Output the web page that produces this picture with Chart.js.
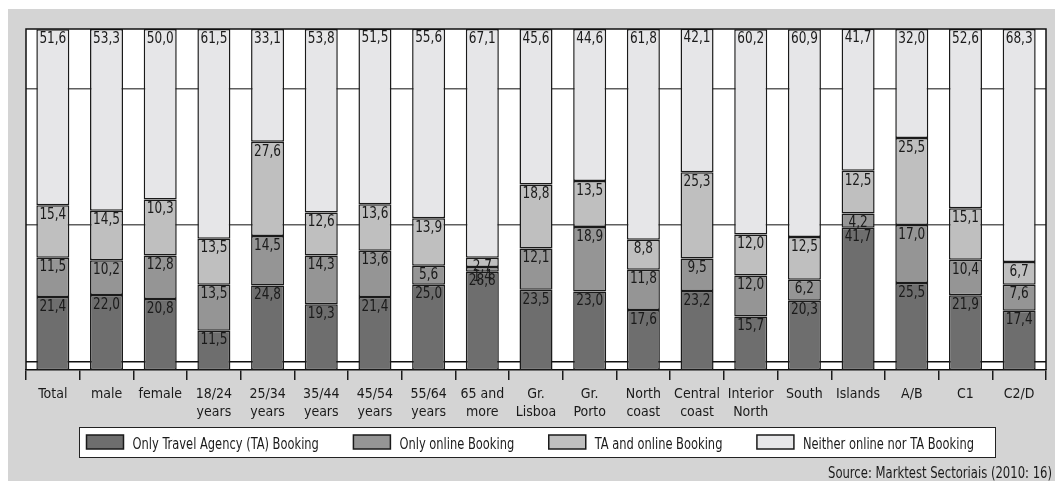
<!DOCTYPE html>
<html>
<head>
<meta charset="utf-8">
<script src="https://cdn.jsdelivr.net/npm/chart.js@4.4.1/dist/chart.umd.min.js"></script>
<style>
  html, body { margin: 0; padding: 0; background: #ffffff; }
  #wrap { width: 1059px; height: 481px; position: relative; }
  canvas { display: block; }
</style>
</head>
<body>
<div id="wrap"><canvas id="c" width="1059" height="481"></canvas></div>
<script>
// ---- data ----
const categories = [
  ['Total'], ['male'], ['female'], ['18/24', 'years'], ['25/34', 'years'],
  ['35/44', 'years'], ['45/54', 'years'], ['55/64', 'years'], ['65 and', 'more'],
  ['Gr.', 'Lisboa'], ['Gr.', 'Porto'], ['North', 'coast'], ['Central', 'coast'],
  ['Interior', 'North'], ['South'], ['Islands'], ['A/B'], ['C1'], ['C2/D']
];
const seriesNames = [
  'Only Travel Agency (TA) Booking',
  'Only online Booking',
  'TA and online Booking',
  'Neither online nor TA Booking'
];
const onlyTA      = [21.4, 22.0, 20.8, 11.5, 24.8, 19.3, 21.4, 25.0, 28.8, 23.5, 23.0, 17.6, 23.2, 15.7, 20.3, 41.7, 25.5, 21.9, 17.4];
const onlyOnline  = [11.5, 10.2, 12.8, 13.5, 14.5, 14.3, 13.6,  5.6,  1.4, 12.1, 18.9, 11.8,  9.5, 12.0,  6.2,  4.2, 17.0, 10.4,  7.6];
// drawn heights (female bar is drawn ~16.4 tall although printed as 10,3)
const taAndOnline = [15.4, 14.5, 16.4, 13.5, 27.6, 12.6, 13.6, 13.9,  2.7, 18.8, 13.5,  8.8, 25.3, 12.0, 12.5, 12.5, 25.5, 15.1,  6.7];
const taAndOnlinePrinted = [15.4, 14.5, 10.3, 13.5, 27.6, 12.6, 13.6, 13.9, 2.7, 18.8, 13.5, 8.8, 25.3, 12.0, 12.5, 12.5, 25.5, 15.1, 6.7];
const neither     = [51.6, 53.3, 50.0, 61.5, 33.1, 53.8, 51.5, 55.6, 67.1, 45.6, 44.6, 61.8, 42.1, 60.2, 60.9, 41.7, 32.0, 52.6, 68.3];
const gridValues = [2.5, 42.5, 82.5];
const sourceText = 'Source: Marktest Sectoriais (2010: 16)';

// ---- styles ----
const FONT = "'DejaVu Sans Condensed', 'Liberation Sans Narrow', sans-serif";
const colors = ['#6e6e6e', '#959595', '#bfbfbf', '#e6e6e8'];
const printed = [onlyTA, onlyOnline, taAndOnlinePrinted, neither];

function scaledText(ctx, txt, x, y, sx) {
  ctx.save();
  ctx.translate(x, y);
  ctx.scale(sx, 1);
  ctx.fillText(txt, 0, 0);
  ctx.restore();
}

const decorPlugin = {
  id: 'decor',
  beforeDraw(chart) {
    const ctx = chart.ctx, a = chart.chartArea;
    ctx.save();
    ctx.fillStyle = '#ffffff';
    ctx.fillRect(0, 0, chart.width, chart.height);
    ctx.fillStyle = '#d4d4d4';
    ctx.fillRect(8, 9, 1047, 472);
    ctx.fillStyle = '#ffffff';
    ctx.fillRect(a.left, a.top, a.right - a.left, a.bottom - a.top);
    ctx.restore();
  },
  afterDatasetsDraw(chart) {
    const ctx = chart.ctx, a = chart.chartArea;
    ctx.save();
    // data labels
    ctx.font = '16px ' + FONT;
    ctx.fillStyle = '#1a1a1a';
    ctx.textAlign = 'center';
    ctx.textBaseline = 'top';
    chart.data.datasets.forEach((ds, i) => {
      const meta = chart.getDatasetMeta(i);
      meta.data.forEach((bar, j) => {
        const top = Math.min(bar.y, bar.base);
        const txt = printed[i][j].toFixed(1).replace('.', ',');
        scaledText(ctx, txt, bar.x, top + 1.5, 0.84);
      });
    });
    // frame
    ctx.strokeStyle = '#111111';
    ctx.lineWidth = 1.5;
    ctx.beginPath();
    ctx.moveTo(a.left, a.bottom);
    ctx.lineTo(a.left, a.top);
    ctx.lineTo(a.right, a.top);
    ctx.lineTo(a.right, a.bottom);
    ctx.stroke();
    ctx.restore();
  },
  afterDraw(chart) {
    const ctx = chart.ctx;
    ctx.save();
    // legend box
    const box = { x: 79, y: 427.5, w: 916, h: 30 };
    ctx.fillStyle = '#ffffff';
    ctx.fillRect(box.x, box.y, box.w, box.h);
    ctx.strokeStyle = '#222222';
    ctx.lineWidth = 1;
    ctx.strokeRect(box.x + 0.5, box.y, box.w, box.h);
    ctx.font = '15px ' + FONT;
    ctx.textBaseline = 'alphabetic';
    ctx.textAlign = 'left';
    const rawTotal = seriesNames.reduce((s, n) => s + ctx.measureText(n).width, 0);
    const sx = 600 / rawTotal;
    let x = 86.5;
    const swW = 37, swH = 14, gapText = 9, gapItem = 34.5;
    chart.data.datasets.forEach((ds) => {
      ctx.fillStyle = ds.backgroundColor;
      ctx.fillRect(x, 435, swW, swH);
      ctx.strokeStyle = '#1a1a1a';
      ctx.lineWidth = 1.5;
      ctx.strokeRect(x, 435, swW, swH);
      ctx.fillStyle = '#1a1a1a';
      scaledText(ctx, ds.label, x + swW + gapText, 449, sx);
      x += swW + gapText + ctx.measureText(ds.label).width * sx + gapItem;
    });
    // source
    ctx.font = '16px ' + FONT;
    ctx.textAlign = 'right';
    ctx.fillStyle = '#1a1a1a';
    const sxs = 224 / ctx.measureText(sourceText).width;
    scaledText(ctx, sourceText, 1052, 477.5, sxs);
    ctx.restore();
  }
};

const datasets = [onlyTA, onlyOnline, taAndOnline, neither].map((vals, i) => ({
  label: seriesNames[i],
  data: vals,
  backgroundColor: colors[i],
  borderColor: '#1a1a1a',
  borderWidth: 1.5,
  borderSkipped: false,
  barPercentage: 0.615,
  categoryPercentage: 1.0
}));

new Chart(document.getElementById('c'), {
  type: 'bar',
  data: { labels: categories, datasets },
  options: {
    responsive: false,
    animation: false,
    devicePixelRatio: 1,
    layout: { padding: { left: 26, right: 13, top: 29, bottom: 0 } },
    plugins: { legend: { display: false }, tooltip: { enabled: false } },
    scales: {
      x: {
        stacked: true,
        grid: {
          drawOnChartArea: false,
          drawTicks: true,
          tickLength: 10,
          color: '#1a1a1a',
          lineWidth: 1.5
        },
        border: { display: true, color: '#111111', width: 1.5 },
        ticks: {
          autoSkip: false,
          maxRotation: 0,
          minRotation: 0,
          padding: 5,
          color: '#1a1a1a',
          font: { family: FONT, size: 14, lineHeight: 1.28 }
        },
        afterFit(scale) { scale.height = 111; }
      },
      y: {
        stacked: true,
        min: 0,
        max: 100,
        afterBuildTicks(scale) { scale.ticks = gridValues.map(v => ({ value: v })); },
        afterFit(scale) { scale.width = 0; },
        ticks: { display: false },
        border: { display: false },
        grid: {
          drawTicks: false,
          lineWidth: 1.5,
          color: (ctx) => (ctx.tick && ctx.tick.value === gridValues[0]) ? '#111111' : '#5f5f5f'
        }
      }
    }
  },
  plugins: [decorPlugin]
});
</script>
</body>
</html>
